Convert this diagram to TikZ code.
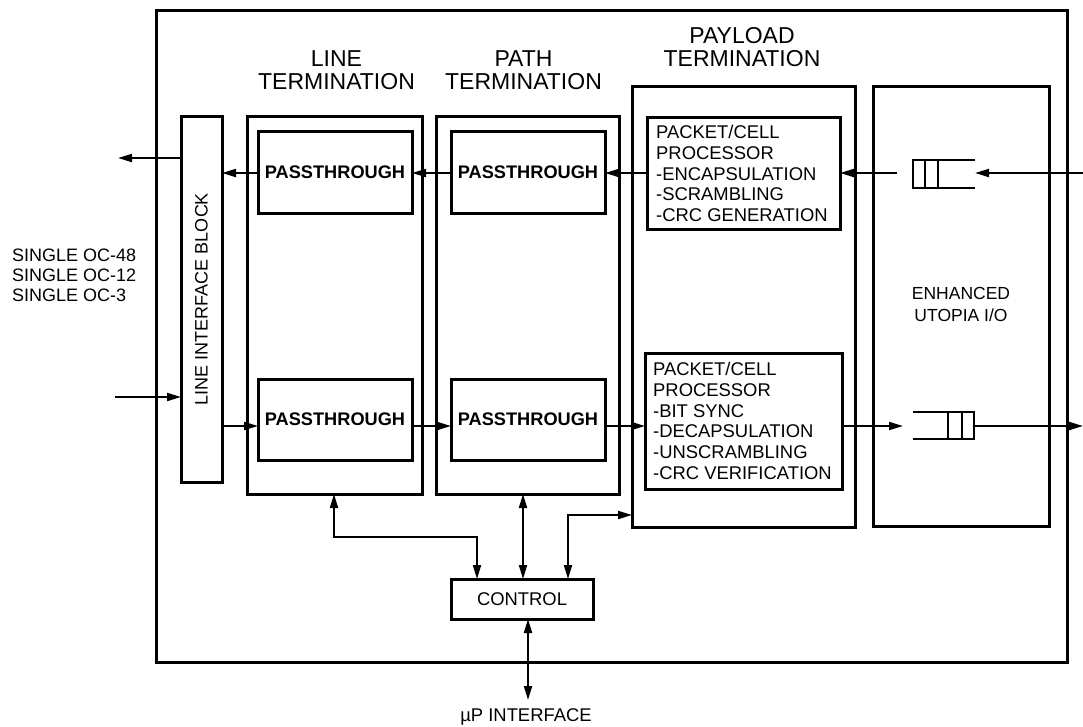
\documentclass[tikz,border=0pt]{standalone}
\usepackage{fontspec}
\setmainfont{Liberation Sans}
\usetikzlibrary{arrows.meta,calc}
\tikzset{
  blk/.style={draw, line width=3pt, inner sep=0pt, outer sep=0pt, anchor=north west},
  conn/.style={line width=2pt},
  qline/.style={line width=2.6pt},
  ttl/.style={inner sep=0pt, anchor=north, align=center, font=\fontsize{23}{23}\selectfont},
  txt/.style={inner sep=0pt, align=left, font=\fontsize{18.4}{20.8}\selectfont},
  ptxt/.style={font=\fontsize{18.2}{20}\selectfont\bfseries},
  >={Triangle[length=14pt,width=8pt]}
}
\begin{document}
\begin{tikzpicture}[x=1pt,y=-1pt]
\useasboundingbox (0,0) rectangle (1083,726);
% outer box
\node[blk, minimum width=911pt, minimum height=652pt] (outer) at (156,10) {};
% blocks
\node[blk, minimum width=41pt, minimum height=366pt] (lib) at (181,116) {};
\node[rotate=90, font=\fontsize{18}{20}\selectfont, inner sep=0pt] (libt) at (lib.center) {LINE INTERFACE BLOCK};
\node[blk, minimum width=175pt, minimum height=378pt] (lterm) at (247,116) {};
\node[blk, minimum width=183pt, minimum height=378pt] (pterm) at (436,116) {};
\node[blk, minimum width=223pt, minimum height=441pt] (pay) at (632,86) {};
\node[blk, minimum width=176pt, minimum height=440pt] (uto) at (873,86) {};
% passthroughs
\node[blk, minimum width=154pt, minimum height=82pt] (lpt1) at (258,131) {};
\node[ptxt] at (lpt1.center) {PASSTHROUGH};
\node[blk, minimum width=154pt, minimum height=81pt] (lpt2) at (258,379) {};
\node[ptxt] at (lpt2.center) {PASSTHROUGH};
\node[blk, minimum width=154pt, minimum height=82pt] (ppt1) at (451,131) {};
\node[ptxt] at (ppt1.center) {PASSTHROUGH};
\node[blk, minimum width=154pt, minimum height=81pt] (ppt2) at (451,379) {};
\node[ptxt] at (ppt2.center) {PASSTHROUGH};
% packet processors
\node[blk, minimum width=193pt, minimum height=112pt] (pkt1) at (647,117) {};
\node[txt, anchor=north west] at (656,125) {PACKET/CELL\\PROCESSOR\\-ENCAPSULATION\\-SCRAMBLING\\-CRC GENERATION};
\node[blk, minimum width=197pt, minimum height=136pt] (pkt2) at (645,353) {};
\node[txt, anchor=north west] at (653,362) {PACKET/CELL\\PROCESSOR\\-BIT SYNC\\-DECAPSULATION\\-UNSCRAMBLING\\-CRC VERIFICATION};
% control
\node[blk, minimum width=142pt, minimum height=40pt] (ctrl) at (451,579) {};
\node[font=\fontsize{18.4}{20}\selectfont] at (ctrl.center) {CONTROL};
% titles
\node[ttl] at (336.5,50) {LINE\\TERMINATION};
\node[ttl] at (523.5,50) {PATH\\TERMINATION};
\node[ttl] at (742,27) {PAYLOAD\\TERMINATION};
\node[inner sep=0pt, anchor=north, align=center, font=\fontsize{17.5}{21.7}\selectfont] at (961,287.5) {ENHANCED\\UTOPIA I/O};
\node[txt, anchor=north west, font=\fontsize{18}{20}\selectfont] at (12,249) {SINGLE OC-48\\SINGLE OC-12\\SINGLE OC-3};
\node[inner sep=0pt, anchor=north, font=\fontsize{18.4}{20}\selectfont] at (526,708) {µP INTERFACE};
% queues
\node[inner sep=0pt, outer sep=0pt, minimum width=62pt, minimum height=28pt, anchor=north west] (q1) at (913,160) {};
\draw[qline] (q1.north east) -- (q1.north west) -- (q1.south west) -- (q1.south east);
\draw[qline] ($(q1.north west)+(12,0)$) -- ($(q1.south west)+(12,0)$);
\draw[qline] ($(q1.north west)+(25,0)$) -- ($(q1.south west)+(25,0)$);
\node[inner sep=0pt, outer sep=0pt, minimum width=61pt, minimum height=27pt, anchor=north west] (q2) at (913,412) {};
\draw[qline] (q2.north west) -- (q2.north east) -- (q2.south east) -- (q2.south west);
\draw[qline] ($(q2.north east)+(-12,0)$) -- ($(q2.south east)+(-12,0)$);
\draw[qline] ($(q2.north east)+(-26,0)$) -- ($(q2.south east)+(-26,0)$);
% rows
\coordinate (r1) at (0,173);
\coordinate (r2) at (0,426);
\coordinate (inR) at (1083,173);
\coordinate (outR) at (1083,426);
\coordinate (outL) at (118,158);
\coordinate (inL) at (115,397);
\coordinate (up) at (528,700);
% top row (right to left)
\draw[conn,->] (inR) -- (q1.east |- r1);
\draw[conn,->, shorten <=16pt] (q1.west |- r1) -- (pkt1.east |- r1);
\draw[conn,->] (pkt1.west |- r1) -- (ppt1.east |- r1);
\draw[conn,->] (ppt1.west |- r1) -- (lpt1.east |- r1);
\draw[conn,->] (lpt1.west |- r1) -- (lib.east |- r1);
\draw[conn,->] (lib.west |- outL) -- (outL);
% bottom row (left to right)
\draw[conn,->] (inL) -- (lib.west |- inL);
\draw[conn,->] (lib.east |- r2) -- (lpt2.west |- r2);
\draw[conn,->] (lpt2.east |- r2) -- (ppt2.west |- r2);
\draw[conn,->] (ppt2.east |- r2) -- (pkt2.west |- r2);
\draw[conn,->, shorten >=10pt] (pkt2.east |- r2) -- (q2.west |- r2);
\draw[conn,->] (q2.east |- r2) -- (outR);
% control connections
\draw[conn,<->] (lterm.south -| 334,0) -- (334,537) -| (ctrl.north -| 477,0);
\draw[conn,<->] (pterm.south -| 523,0) -- (ctrl.north -| 523,0);
\draw[conn,<->] (ctrl.north -| 568,0) |- (pay.west |- 0,515);
\draw[conn,<->] (ctrl.south -| up) -- (up);
\end{tikzpicture}
\end{document}
